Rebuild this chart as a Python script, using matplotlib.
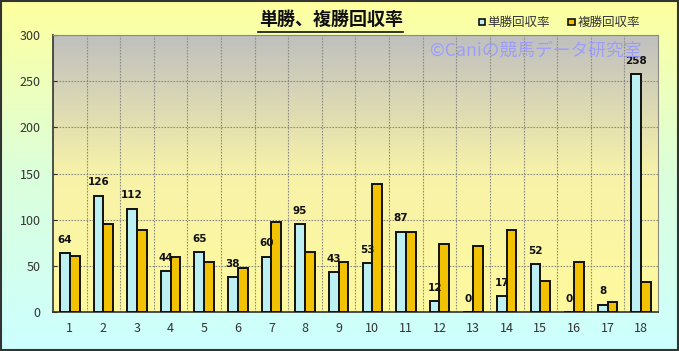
import numpy as np
import matplotlib
matplotlib.use("Agg")
import matplotlib.pyplot as plt
from matplotlib.patches import Rectangle
from matplotlib.colors import LinearSegmentedColormap

plt.rcParams['font.family'] = ['Noto Sans CJK JP', 'DejaVu Sans']

categories = [str(i) for i in range(1, 19)]
tansho = [64, 126, 112, 44, 65, 38, 60, 95, 43, 53, 87, 12, 0, 17, 52, 0, 8, 258]
fukusho = [61, 95, 89, 60, 54, 48, 98, 65, 54, 139, 87, 74, 72, 89, 34, 54, 11, 32]
yticks = [0, 50, 100, 150, 200, 250, 300]
title = "単勝、複勝回収率"
series_names = ["単勝回収率", "複勝回収率"]
watermark = "©Caniの競馬データ研究室"

fig = plt.figure(figsize=(6.79, 3.51), dpi=100)

# figure background gradient
bg = fig.add_axes([0, 0, 1, 1], zorder=-10)
bg_cmap = LinearSegmentedColormap.from_list("bg", [(0.80, 1.0, 1.0), (0.86, 1.0, 0.86), (1.0, 1.0, 0.62)])
grad = np.linspace(0, 1, 256).reshape(-1, 1)
bg.imshow(grad, aspect='auto', cmap=bg_cmap, origin='lower', extent=[0, 1, 0, 1])
bg.set_axis_off()
bg.set_xlim(0, 1); bg.set_ylim(0, 1)

ax = fig.add_axes([0.078, 0.111, 0.891, 0.789])
n = len(categories)
x = np.arange(n)
ax.set_xlim(-0.5, n - 0.5)
ax.set_ylim(0, 300)

pa_cmap = LinearSegmentedColormap.from_list("pa", [(1.0, 0.98, 0.62), (0.97, 0.95, 0.66), (0.75, 0.75, 0.75)])
ax.imshow(grad, aspect='auto', cmap=pa_cmap, origin='lower',
          extent=[-0.5, n - 0.5, 0, 300], zorder=0)

# grid
gcol = '#8c8c84'
for v in yticks[1:]:
    ax.axhline(v, color=gcol, lw=0.8, ls=(0, (1.5, 1.2)), zorder=1)
for b in np.arange(0.5, n - 0.5, 1):
    ax.axvline(b, color=gcol, lw=0.8, ls=(0, (1.5, 1.2)), zorder=1)

w = 0.29
ax.bar(x - w / 2, tansho, w, color='#bdf0f2', edgecolor='#111111', linewidth=1.4, zorder=3)
ax.bar(x + w / 2, fukusho, w, color='#f2c200', edgecolor='#111111', linewidth=1.4, zorder=3)

for xi, v in zip(x, tansho):
    ax.annotate(str(v), (xi - w / 2, v), xytext=(0, 6), textcoords='offset points',
                ha='center', va='bottom', fontsize=7.5, fontweight='bold',
                family=['DejaVu Sans'], color='#111111', zorder=5)

ax.set_xticks(x)
ax.set_xticklabels(categories)
ax.set_yticks(yticks)
ax.tick_params(axis='both', labelsize=9, colors='#333333', length=3, direction='in')
ax.tick_params(axis='x', length=0, pad=7)
ax.tick_params(axis='y', pad=9)
for s in ['top', 'right']:
    ax.spines[s].set_color('#8a8a80')
    ax.spines[s].set_linewidth(0.8)
ax.spines['left'].set_color('#333333')
ax.spines['bottom'].set_color('#333333')
ax.spines['left'].set_linewidth(1.2)
ax.spines['bottom'].set_linewidth(1.2)

# title
fig.text(0.488, 0.945, title, ha='center', va='center', fontsize=13, fontweight='bold', color='#111111')
fig.add_artist(plt.Line2D([0.380, 0.593], [0.910, 0.910], color='#111111', lw=1.2))

# legend
fig.add_artist(Rectangle((0.705, 0.928), 0.0095, 0.018, facecolor='#bdf0f2', edgecolor='#111111', lw=1.2))
fig.text(0.718, 0.937, series_names[0], ha='left', va='center', fontsize=9, color='#333333')
fig.add_artist(Rectangle((0.837, 0.928), 0.0095, 0.018, facecolor='#f2c200', edgecolor='#111111', lw=1.2))
fig.text(0.850, 0.937, series_names[1], ha='left', va='center', fontsize=9, color='#333333')

# watermark
fig.text(0.633, 0.855, watermark, ha='left', va='center', fontsize=12.8, color='#9a9aff', alpha=0.9)

# border
fig.add_artist(Rectangle((0.001, 0.002), 0.997, 0.995, transform=fig.transFigure,
                         fill=False, edgecolor='#333333', lw=1.5))

fig.savefig("out.png", dpi=100)
